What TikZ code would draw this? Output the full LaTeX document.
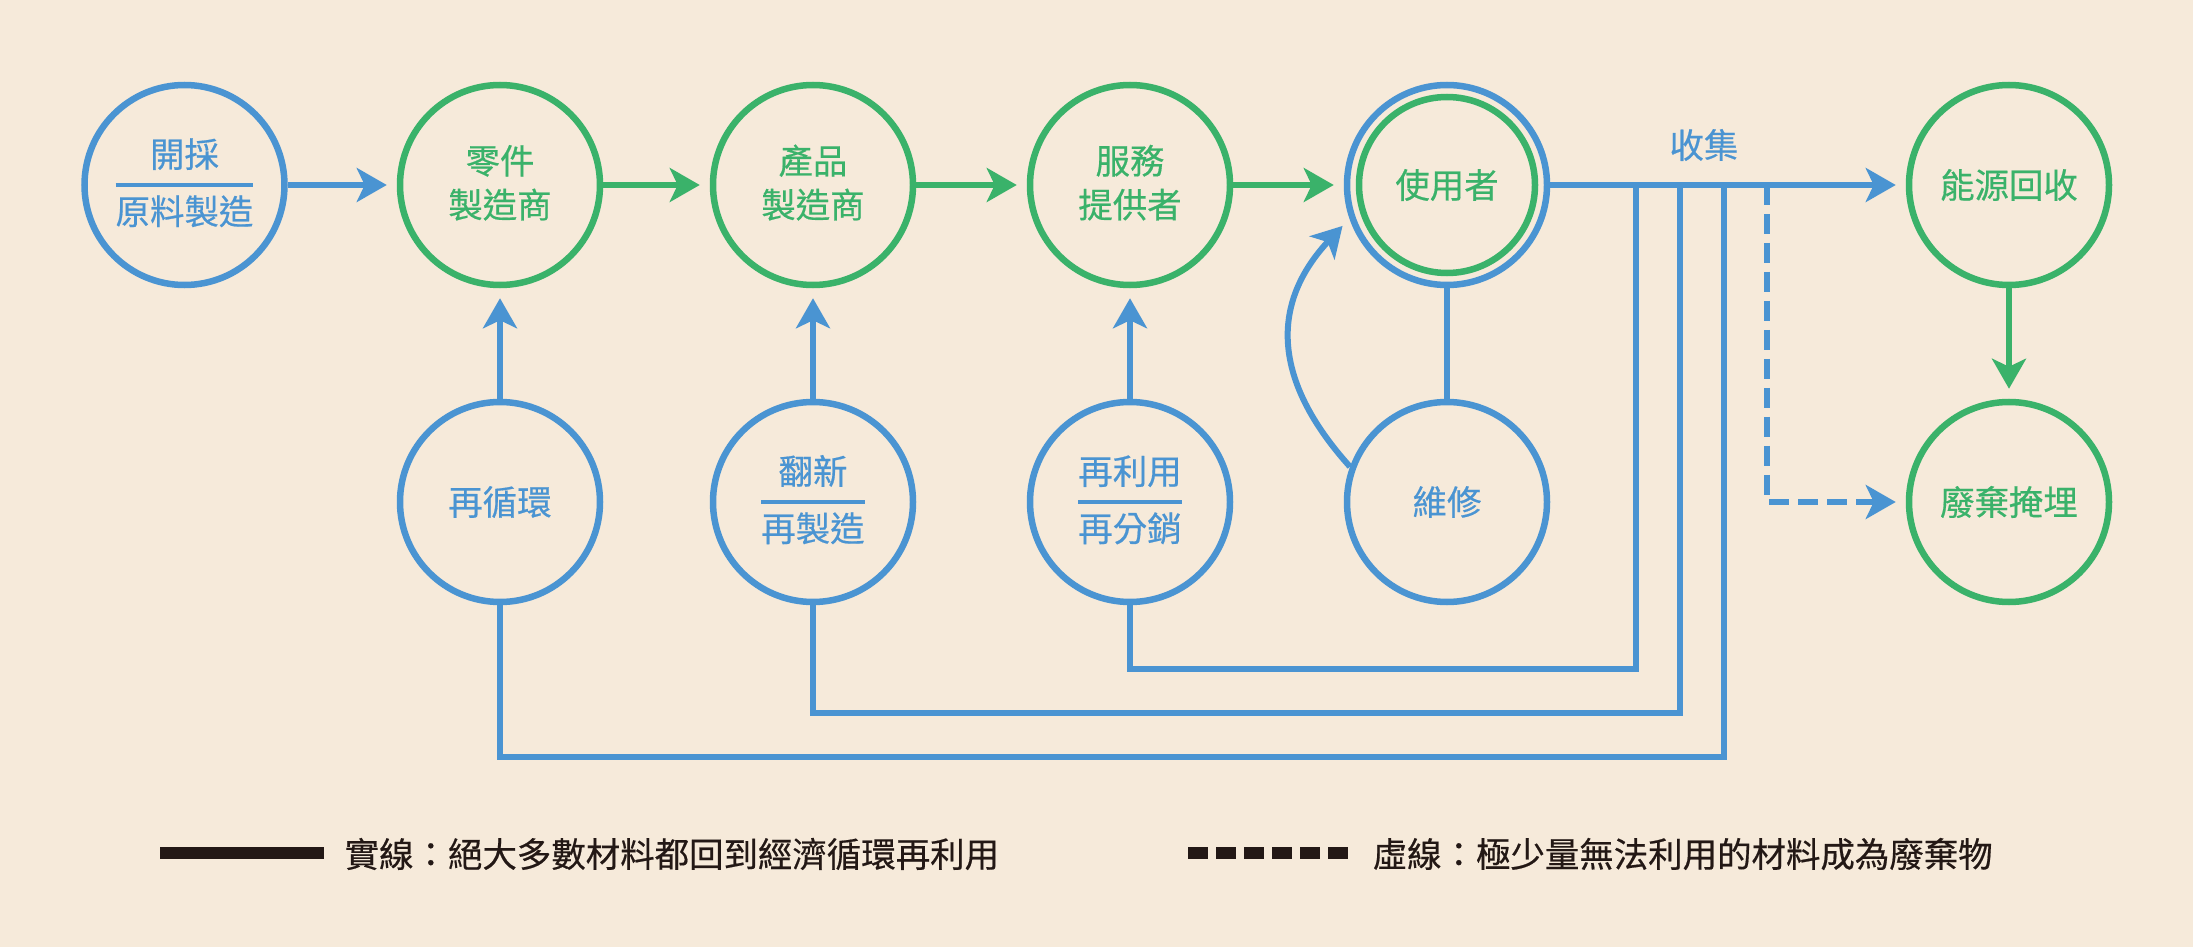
\documentclass[tikz,border=0pt]{standalone}
\usepackage{fontspec}
\setmainfont{Noto Sans CJK TC}[BoldFont={Noto Sans CJK TC}, BoldFeatures={FakeBold=0.5}]
\usetikzlibrary{arrows.meta}
\definecolor{bg}{RGB}{246,234,218}
\definecolor{cblue}{RGB}{74,148,210}
\definecolor{cgreen}{RGB}{58,178,106}
\definecolor{cdark}{RGB}{35,24,21}
\setlength{\arrayrulewidth}{0.94pt}
\renewcommand{\arraystretch}{1.18}
\newcommand{\lab}{\fontsize{9.8pt}{13pt}\selectfont\bfseries}
\newcommand{\twolab}[2]{\begin{tabular}{@{}c@{}}#1\\\hline #2\end{tabular}}
\newcommand{\twoplain}[2]{\begin{tabular}{@{}c@{}}#1\\[-2.84pt]#2\end{tabular}}
\begin{document}
\begin{tikzpicture}
		\tikzstyle{every node}+=[inner sep=0pt]
		\tikzstyle{bstate}=[circle, draw=cblue, line width=0.065cm, minimum size=2cm, text=cblue, font=\lab]
		\tikzstyle{gstate}=[circle, draw=cgreen, line width=0.065cm, minimum size=2cm, text=cgreen, font=\lab]
		\tikzstyle{bline}=[draw=cblue, line width=0.06cm]
		\tikzstyle{barrow}=[bline, -{Stealth[length=0.3cm, width=0.34cm, inset=0.08cm]}, shorten >=0.1cm]
		\tikzstyle{garrow}=[barrow, draw=cgreen]
		\fill [bg] (0,0) rectangle (21.93,-9.47);
		\useasboundingbox (0,0) rectangle (21.93,-9.47);
		\node [bstate] (mining) at (1.845,-1.85) {\twolab{開採}{原料製造}};
		\node [gstate] (parts) at (5.0,-1.85) {\twoplain{零件}{製造商}};
		\node [gstate] (product) at (8.13,-1.85) {\twoplain{產品}{製造商}};
		\node [gstate] (service) at (11.3,-1.85) {\twoplain{服務}{提供者}};
		\node [bstate, text=cgreen] (user) at (14.47,-1.85) {使用者};
		\draw [cgreen, line width=0.065cm] (user.center) circle (0.88);
		\node [gstate] (energy) at (20.09,-1.85) {能源回收};
		\node [bstate] (recycle) at (5.0,-5.02) {再循環};
		\node [bstate] (refurb) at (8.13,-5.02) {\twolab{翻新}{再製造}};
		\node [bstate] (reuse) at (11.3,-5.02) {\twolab{再利用}{再分銷}};
		\node [bstate] (repair) at (14.47,-5.02) {維修};
		\node [gstate] (landfill) at (20.09,-5.02) {廢棄掩埋};
		\node [text=cblue, font=\lab] (collect) at (17.04,-1.45) {收集};
		\coordinate (c1) at (16.36,-1.85);
		\coordinate (c2) at (16.80,-1.85);
		\coordinate (c3) at (17.24,-1.85);
		\coordinate (c4) at (17.67,-1.85);
		\draw [barrow] (mining) -- (parts);
		\draw [garrow] (parts) -- (product);
		\draw [garrow] (product) -- (service);
		\draw [garrow] (service) -- (user);
		\draw [barrow] (user) -- (energy);
		\draw [garrow] (energy) -- (landfill);
		\draw [barrow] (recycle) -- (parts);
		\draw [barrow] (refurb) -- (product);
		\draw [barrow] (reuse) -- (service);
		\draw [bline] (user) -- (repair);
		\draw [barrow] (repair.160) to[out=132, in=227, looseness=1.2] (user.199);
		\draw [bline] (reuse.south) -- ++(0,-0.64) -| (c1);
		\draw [bline] (refurb.south) -- ++(0,-1.08) -| (c2);
		\draw [bline] (recycle.south) -- ++(0,-1.52) -| (c3);
		\draw [barrow, dash pattern=on 0.2cm off 0.09cm] (c4) |- (landfill);
		\node [anchor=west, text=cdark, font=\lab] (solidtxt) at (3.44,-8.54) {實線：絕大多數材料都回到經濟循環再利用};
		\node [anchor=west, text=cdark, font=\lab] (dashtxt) at (13.72,-8.54) {虛線：極少量無法利用的材料成為廢棄物};
		\draw [cdark, line width=0.125cm] (1.60,-8.53) -- (3.24,-8.53);
		\draw [cdark, line width=0.125cm, dash pattern=on 0.2cm off 0.08cm] (11.88,-8.53) -- (13.48,-8.53);
	\end{tikzpicture}
\end{document}
